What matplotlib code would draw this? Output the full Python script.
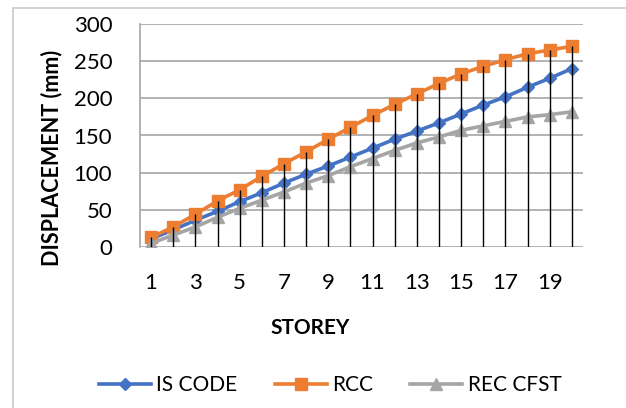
import numpy as np
import matplotlib.pyplot as plt
from matplotlib.patches import Rectangle

plt.rcParams['font.family'] = ['Lato', 'DejaVu Sans']

# Data
storey = list(range(1, 21))
is_code = [11, 23, 36, 48, 61, 73, 86, 98, 109, 121, 133, 145, 156, 167, 179, 191, 202, 215, 227, 240]
rcc = [13, 27, 44, 62, 77, 95, 112, 128, 145, 161, 177, 192, 206, 220, 233, 243, 252, 260, 265, 270]
rec_cfst = [5, 16, 27, 40, 52, 63, 74, 86, 96, 108, 119, 130, 140, 148, 157, 163, 169, 175, 178, 182]
xtick_labels = [1, 3, 5, 7, 9, 11, 13, 15, 17, 19]

fig = plt.figure(figsize=(6.26, 4.08), dpi=100)
fig.patches.append(Rectangle((13 / 626, -0.1), 1.2, 1 - 8 / 408 + 0.1, transform=fig.transFigure,
                             fill=False, edgecolor='#c8c8c8', linewidth=1.2, zorder=0))

ax = fig.add_axes([140 / 626, 1 - 247 / 408, 443 / 626, 223 / 408])

ax.plot(storey, is_code, color='#4472c4', lw=2.6, marker='D', ms=6.5, label='IS CODE', zorder=3)
ax.plot(storey, rcc, color='#ed7d31', lw=2.6, marker='s', ms=8, label='RCC', zorder=3)
ax.plot(storey, rec_cfst, color='#a5a5a5', lw=2.6, marker='^', ms=8, label='REC CFST', zorder=3)

# drop lines from the highest series down to zero
top = np.maximum(np.maximum(is_code, rcc), rec_cfst)
ax.vlines(storey, 0, top, colors='black', lw=1, zorder=4)

ax.set_xlim(0.5, 20.5)
ax.set_ylim(0, 300)
ax.set_yticks(range(0, 301, 50))
ax.set_xticks(xtick_labels)
ax.grid(axis='y', color='#a6a6a6', lw=1.2)
ax.set_axisbelow(True)
for s in ['top', 'right', 'bottom']:
    ax.spines[s].set_visible(False)
ax.spines['left'].set_color('#a6a6a6')
ax.spines['left'].set_linewidth(1.2)
ax.tick_params(axis='y', length=0, pad=20, labelsize=16)
ax.tick_params(axis='x', length=0, pad=19, labelsize=16)

ax.set_ylabel('DISPLACEMENT (mm)', fontsize=15.5, fontweight='bold')
ax.yaxis.set_label_coords(-0.176, 0.40)
ax.set_xlabel('STOREY', fontsize=15, fontweight='bold', va='top')
ax.xaxis.set_label_coords(0.384, -0.32)

fig.legend(loc='center', bbox_to_anchor=(330 / 626, 1 - 385 / 408), ncol=3, frameon=False,
           fontsize=15, handlelength=2.5, handletextpad=0.25, columnspacing=1.8)

fig.savefig('out.png', dpi=100)
